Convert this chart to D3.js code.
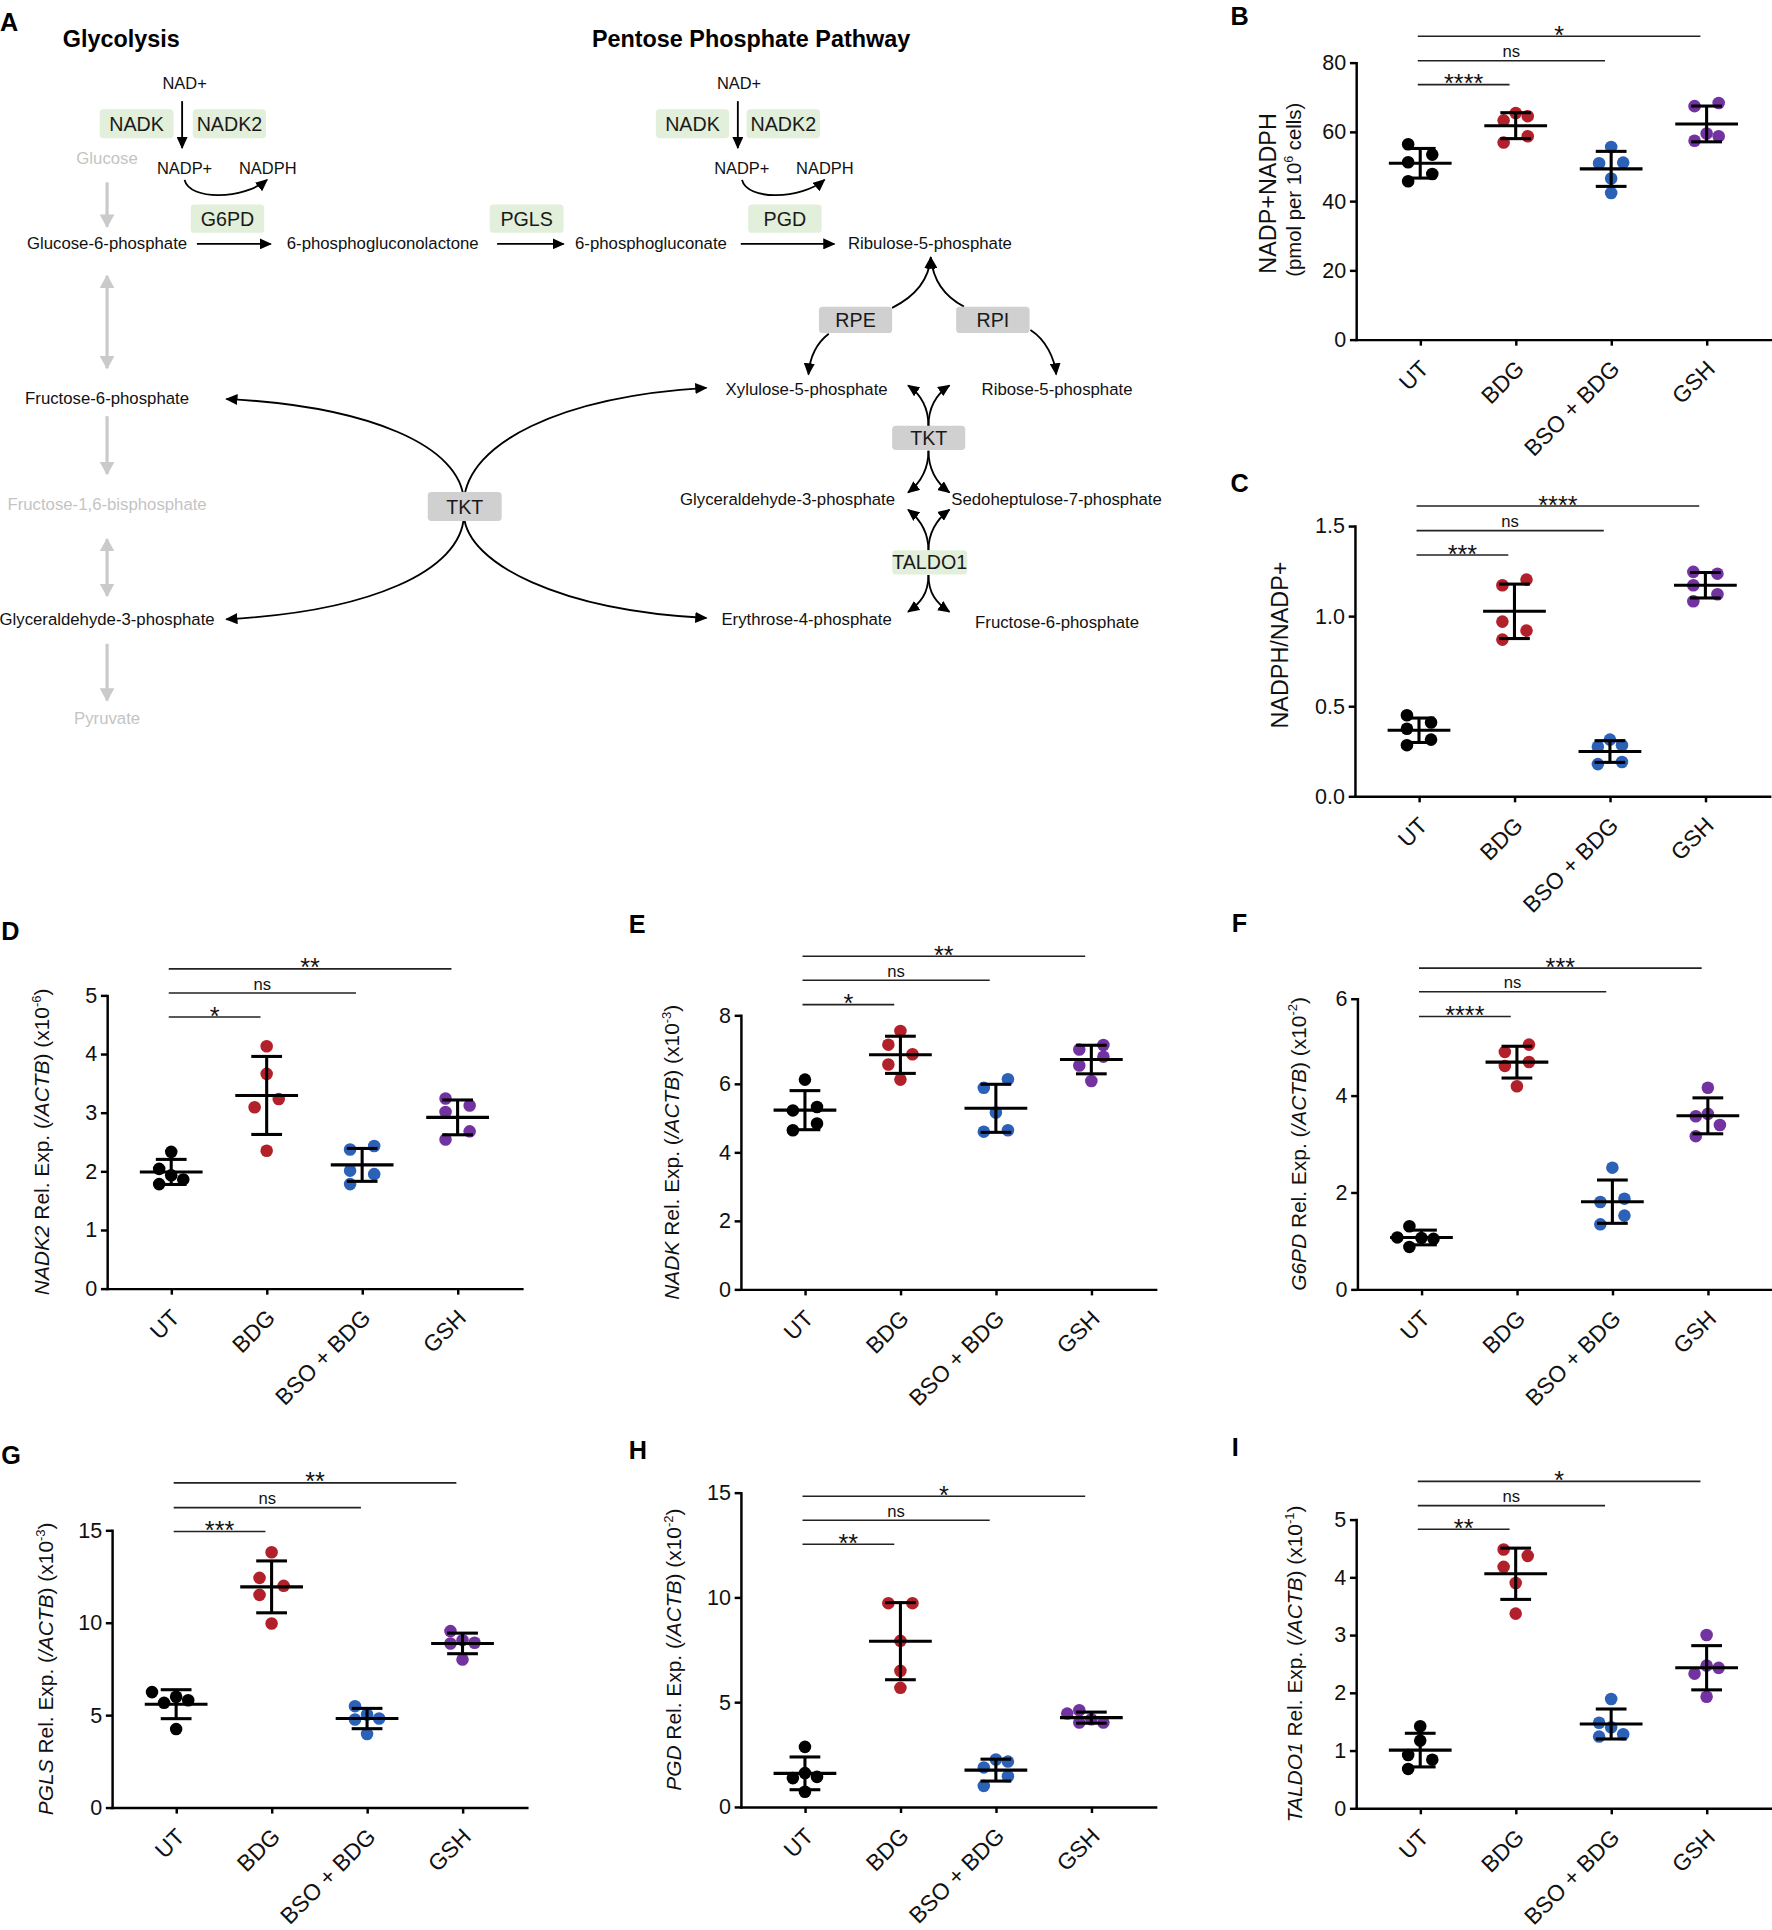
<!DOCTYPE html>
<html>
<head>
<meta charset="utf-8">
<script src="https://cdnjs.cloudflare.com/ajax/libs/d3/7.8.5/d3.min.js"></script>
<style>
body { margin: 0; background: #fff; }
svg { display: block; }
text { font-family: "Liberation Sans", Arial, sans-serif; }
</style>
</head>
<body>
<script>
// ---- data ----
var groups = ['UT', 'BDG', 'BSO + BDG', 'GSH'];
var groupColors = ['#000000', '#b2202a', '#2c61b8', '#7232a0'];

var nadpTotal = [[56.4, 53.4, 51.2, 47.8, 45.7], [65.4, 64.5, 63.3, 58.7, 56.9], [55.6, 51.1, 50.9, 46.5, 42.3], [68.3, 67.4, 59.5, 58.7, 57.4]];
var nadphRatio = [[0.449, 0.409, 0.374, 0.314, 0.283], [1.202, 1.171, 0.969, 0.919, 0.869], [0.314, 0.283, 0.274, 0.190, 0.178], [1.245, 1.235, 1.171, 1.121, 1.082]];
var nadk2Exp = [[2.33, 2.04, 1.93, 1.86, 1.78], [4.13, 3.66, 3.23, 3.09, 2.35], [2.43, 2.37, 2.01, 1.95, 1.78], [3.24, 3.12, 3.01, 2.68, 2.54]];
var nadkExp = [[6.12, 5.32, 5.22, 4.84, 4.64], [7.54, 7.14, 6.86, 6.56, 6.12], [6.13, 5.88, 5.16, 4.64, 4.60], [7.13, 7.00, 6.79, 6.53, 6.08]];
var g6pdExp = [[1.30, 1.07, 1.06, 1.04, 0.874], [5.05, 4.90, 4.69, 4.61, 4.19], [2.51, 1.87, 1.80, 1.52, 1.34], [4.16, 3.62, 3.57, 3.39, 3.16]];
var pglsExp = [[6.24, 5.99, 5.80, 5.66, 4.24], [13.81, 12.42, 11.99, 11.50, 9.95], [5.48, 5.03, 4.81, 4.76, 3.97], [9.54, 9.05, 8.91, 8.87, 8.00]];
var pgdExp = [[2.86, 1.61, 1.43, 1.37, 0.72], [9.72, 9.72, 7.92, 6.49, 5.68], [2.26, 2.16, 1.88, 1.46, 1.00], [4.61, 4.45, 4.18, 4.02, 4.02]];
var taldo1Exp = [[1.42, 1.17, 0.92, 0.84, 0.68], [4.48, 4.37, 4.18, 3.90, 3.37], [1.89, 1.48, 1.40, 1.28, 1.24], [3.00, 2.47, 2.43, 2.33, 1.93]];

var ticksB = [0, 20, 40, 60, 80];
var ticksC = [0, 0.5, 1, 1.5];
var ticksD = [0, 1, 2, 3, 4, 5];
var ticksE = [0, 2, 4, 6, 8];
var ticksF = [0, 2, 4, 6];
var ticksG = [0, 5, 10, 15];
var ticksH = [0, 5, 10, 15];
var ticksI = [0, 1, 2, 3, 4, 5];

// comparisons vs UT: BDG, BSO + BDG, GSH (label, bracket level in axis units)
var sigLabelsB = ['****', 'ns', '*'],   sigLevelsB = [73.6, 80.5, 87.6];
var sigLabelsC = ['***', 'ns', '****'], sigLevelsC = [1.339, 1.474, 1.611];
var sigLabelsD = ['*', 'ns', '**'],     sigLevelsD = [4.63, 5.04, 5.45];
var sigLabelsE = ['*', 'ns', '**'],     sigLevelsE = [8.31, 9.02, 9.72];
var sigLabelsF = ['****', 'ns', '***'], sigLevelsF = [5.63, 6.14, 6.63];
var sigLabelsG = ['***', 'ns', '**'],   sigLevelsG = [14.93, 16.22, 17.56];
var sigLabelsH = ['**', 'ns', '*'],     sigLevelsH = [12.53, 13.68, 14.82];
var sigLabelsI = ['**', 'ns', '*'],     sigLevelsI = [4.83, 5.24, 5.66];

// ---- fonts ----
function hasFont(name) {
    var c = document.createElement('canvas').getContext('2d');
    var s = 'Glyceraldehyde-3-phosphate';
    c.font = '40px monospace';
    var a = c.measureText(s).width;
    c.font = "40px '" + name + "', monospace";
    var b = c.measureText(s).width;
    return Math.abs(a - b) > 1;
}
var narrowOK = hasFont('Liberation Sans Narrow');
var NARROW = narrowOK ? "'Liberation Sans Narrow', 'Liberation Sans', sans-serif" : "'Liberation Sans', Arial, sans-serif";
var SANS = "'Liberation Sans', Arial, sans-serif";
var nk = narrowOK ? 1 : 0.82;

var svg = d3.select('body').append('svg')
    .attr('width', 1772).attr('height', 1930)
    .attr('viewBox', '0 0 1440 1568');

var defs = svg.append('defs');
function marker(id, color, w, h) {
    defs.append('marker')
        .attr('id', id)
        .attr('viewBox', '0 0 10 10')
        .attr('refX', 9).attr('refY', 5)
        .attr('markerWidth', w).attr('markerHeight', h)
        .attr('markerUnits', 'userSpaceOnUse')
        .attr('preserveAspectRatio', 'none')
        .attr('orient', 'auto-start-reverse')
      .append('path')
        .attr('d', 'M0,0L10,5L0,10z')
        .attr('fill', color);
}
marker('ah', '#000', 10, 9);
marker('ahg', '#cacaca', 11, 12);

// ---- panel letters ----
var letters = [['A', 0, 18], ['B', 1000, 13], ['C', 1000, 392], ['D', 1, 756], ['E', 511, 751],
               ['F', 1001, 750], ['G', 1, 1182], ['H', 511, 1178], ['I', 1001, 1176]];
svg.selectAll('.letter').data(letters).enter().append('text')
    .attr('class', 'letter')
    .attr('x', function (d) { return d[1]; })
    .attr('y', function (d) { return d[2]; })
    .attr('dy', '0.36em')
    .attr('font-size', 20.5).attr('font-weight', 'bold')
    .text(function (d) { return d[0]; });

// ---- panel A: pathway ----
var A = svg.append('g');

A.append('text').attr('x', 51).attr('y', 31).attr('dy', '0.36em')
    .attr('font-size', 19).attr('font-weight', 'bold').text('Glycolysis');
A.append('text').attr('x', 481).attr('y', 31).attr('dy', '0.36em')
    .attr('font-size', 19).attr('font-weight', 'bold').text('Pentose Phosphate Pathway');

function arrow(d, grey, both) {
    var m = 'url(#' + (grey ? 'ahg' : 'ah') + ')';
    var p = A.append('path').attr('d', d).attr('fill', 'none')
        .attr('stroke', grey ? '#cacaca' : '#000')
        .attr('stroke-width', grey ? 2.6 : 1.5)
        .attr('marker-end', m);
    if (both) p.attr('marker-start', m);
}

// glycolysis column (grey)
arrow('M87,148V184', true);
arrow('M87,224V299', true, true);
arrow('M87,338V385', true);
arrow('M87,438V484', true, true);
arrow('M87,523V569', true);

// oxidative branch
arrow('M148,82V120');
arrow('M599.6,82V120');
arrow('M150,146C154,163 198,162 217,146');
arrow('M603,146C607,163 651,162 670,146');
arrow('M160,198H220');
arrow('M404,198H458');
arrow('M602,198H678');

// non-oxidative branch
arrow('M725,250C745,240 755,226 756.4,209');
arrow('M783.4,249C766,240 758,226 756.4,209');
arrow('M673.5,271C663,279 658,291 657,304');
arrow('M837.4,268C850,276 857,291 858.3,304');
arrow('M754.5,346C754.5,330 748,320 738,313');
arrow('M754.5,346C754.5,330 761,320 771.5,313');
arrow('M754.5,366C754.5,382 748,392 738,400');
arrow('M754.5,366C754.5,382 761,392 771.5,400');
arrow('M754.5,447C754.5,432 748,422 738,414');
arrow('M754.5,447C754.5,432 761,422 771.5,414');
arrow('M754.5,467C754.5,482 748,490 738,497');
arrow('M754.5,467C754.5,482 761,490 771.5,497');

// big TKT crossing
arrow('M377,407C375,362 300,330 184,324');
arrow('M377,419C375,464 300,497 184,503');
arrow('M377,407C380,360 455,322 574,315');
arrow('M377,419C380,458 455,496 574,502');

// enzyme boxes [label, x0, x1, y0, y1, green?]
var enzymes = [
    ['NADK', 81, 141, 88.6, 112.2, 1], ['NADK2', 156.7, 216.2, 88.6, 112.2, 1],
    ['G6PD', 155, 214.7, 166, 189, 1], ['PGLS', 398, 458, 166, 189, 1],
    ['NADK', 533, 592.5, 88.6, 112.2, 1], ['NADK2', 606.7, 666.4, 88.6, 112.2, 1],
    ['PGD', 608, 667.7, 166, 189, 1],
    ['RPE', 665.5, 725, 249, 270.5, 0], ['RPI', 777, 836.7, 249, 270.5, 0],
    ['TKT', 725, 784.4, 345.8, 365.5, 0], ['TALDO1', 725, 786, 447, 466.7, 1],
    ['TKT', 347.6, 407.7, 399.6, 423.2, 0]
];
var eg = A.selectAll('.enz').data(enzymes).enter().append('g').attr('class', 'enz');
eg.append('rect')
    .attr('x', function (d) { return d[1]; })
    .attr('y', function (d) { return d[3]; })
    .attr('width', function (d) { return d[2] - d[1]; })
    .attr('height', function (d) { return d[4] - d[3]; })
    .attr('rx', 3)
    .attr('fill', function (d) { return d[5] ? '#e2efda' : '#d0d0d0'; });
eg.append('text')
    .attr('x', function (d) { return (d[1] + d[2]) / 2; })
    .attr('y', function (d) { return (d[3] + d[4]) / 2; })
    .attr('dy', '0.36em')
    .attr('text-anchor', 'middle')
    .style('font-family', NARROW)
    .attr('font-size', 19.5 * nk)
    .attr('fill', '#1a1a1a')
    .text(function (d) { return d[0]; });

// metabolites [label, cx, cy, grey?, cofactor?]
var metabolites = [
    ['Glucose', 87, 128, 1], ['Glucose-6-phosphate', 87, 197], ['6-phosphogluconolactone', 311, 197],
    ['6-phosphogluconate', 529, 197], ['Ribulose-5-phosphate', 755.7, 197],
    ['Fructose-6-phosphate', 87, 323.7], ['Fructose-1,6-bisphosphate', 87, 409.6, 1],
    ['Glyceraldehyde-3-phosphate', 87, 503.3], ['Pyruvate', 87, 583, 1],
    ['Xylulose-5-phosphate', 655.5, 316], ['Ribose-5-phosphate', 859, 316],
    ['Glyceraldehyde-3-phosphate', 640, 405.7], ['Sedoheptulose-7-phosphate', 858.6, 405.7],
    ['Erythrose-4-phosphate', 655.5, 503.3], ['Fructose-6-phosphate', 859, 505],
    ['NAD+', 150, 67.7, 0, 1], ['NADP+', 150, 136.7, 0, 1], ['NADPH', 217.6, 136.7, 0, 1],
    ['NAD+', 600.6, 67.7, 0, 1], ['NADP+', 602.8, 136.7, 0, 1], ['NADPH', 670.3, 136.7, 0, 1]
];
A.selectAll('.met').data(metabolites).enter().append('text')
    .attr('class', 'met')
    .attr('x', function (d) { return d[1]; })
    .attr('y', function (d) { return d[2]; })
    .attr('dy', '0.35em')
    .attr('text-anchor', 'middle')
    .style('font-family', NARROW)
    .attr('font-size', function (d) { return (d[4] ? 16.3 : 16.6) * nk; })
    .attr('fill', function (d) { return d[3] ? '#c4c4c4' : '#111'; })
    .text(function (d) { return d[0]; });

// ---- dot plots ----
var R = 5.1, OFF = 9.8, GAP = 9.4;

function swarm(values, y) {
    var idx = values.map(function (v, i) { return i; })
                    .sort(function (a, b) { return values[a] - values[b]; });
    var inCluster = values.map(function () { return false; });
    idx.forEach(function (i, k) {
        var py = y(values[i]);
        if (k > 0 && Math.abs(y(values[idx[k - 1]]) - py) < GAP) inCluster[i] = true;
        if (k < idx.length - 1 && Math.abs(y(values[idx[k + 1]]) - py) < GAP) inCluster[i] = true;
    });
    var placed = [], off = [];
    idx.forEach(function (i) {
        var py = y(values[i]);
        var cands = inCluster[i] ? [-OFF, OFF, 0, -2 * OFF, 2 * OFF] : [0, -OFF, OFF, -2 * OFF, 2 * OFF];
        var ch = cands.find(function (c) {
            return placed.every(function (p) { return Math.hypot(p.x - c, p.y - py) >= GAP - 0.01; });
        });
        if (ch === undefined) ch = 0;
        off[i] = ch;
        placed.push({ x: ch, y: py });
    });
    return off;
}

function ylab(parts) {
    return parts.map(function (p) {
        if (p.indexOf('i:') === 0) return { t: p.slice(2), i: true };
        if (p.indexOf('^') === 0) return { t: p.slice(1), sup: true };
        return { t: p };
    });
}
function relExp(gene, power) {
    return ['i:' + gene, ' Rel. Exp. (', 'i:/ACTB', ') (x10', '^' + power, ')'];
}

var panels = [
    { vals: nadpTotal, ticks: ticksB, fmt: d3.format('d'), x0: 1102, yTop: 50.6, yBot: 275.7,
      sl: sigLabelsB, sv: sigLevelsB,
      labels: [{ parts: ['NADP+NADPH'], size: 19, x: 1030, cy: 157 },
               { parts: ['(pmol per 10', '^6', ' cells)'], size: 16.5, x: 1051.7, cy: 154 }] },
    { vals: nadphRatio, ticks: ticksC, fmt: d3.format('.1f'), x0: 1101, yTop: 427.2, yBot: 646.8,
      sl: sigLabelsC, sv: sigLevelsC,
      labels: [{ parts: ['NADPH/NADP+'], size: 19, x: 1040, cy: 524 }] },
    { vals: nadk2Exp, ticks: ticksD, fmt: d3.format('d'), x0: 87, yTop: 808.6, yBot: 1046.9,
      sl: sigLabelsD, sv: sigLevelsD,
      labels: [{ parts: relExp('NADK2', '-6'), size: 17, x: 33.8 }] },
    { vals: nadkExp, ticks: ticksE, fmt: d3.format('d'), x0: 602, yTop: 824.8, yBot: 1047.5,
      sl: sigLabelsE, sv: sigLevelsE,
      labels: [{ parts: relExp('NADK', '-3'), size: 17, x: 546.2 }] },
    { vals: g6pdExp, ticks: ticksF, fmt: d3.format('d'), x0: 1103, yTop: 811.3, yBot: 1047.5,
      sl: sigLabelsF, sv: sigLevelsF,
      labels: [{ parts: relExp('G6PD', '-2'), size: 17, x: 1055.2 }] },
    { vals: pglsExp, ticks: ticksG, fmt: d3.format('d'), x0: 91, yTop: 1243.3, yBot: 1468.6,
      sl: sigLabelsG, sv: sigLevelsG,
      labels: [{ parts: relExp('PGLS', '-3'), size: 17, x: 37.5 }] },
    { vals: pgdExp, ticks: ticksH, fmt: d3.format('d'), x0: 602, yTop: 1212.7, yBot: 1468.1,
      sl: sigLabelsH, sv: sigLevelsH,
      labels: [{ parts: relExp('PGD', '-2'), size: 17, x: 547.5 }] },
    { vals: taldo1Exp, ticks: ticksI, fmt: d3.format('d'), x0: 1102, yTop: 1234.6, yBot: 1469.2,
      sl: sigLabelsI, sv: sigLevelsI,
      labels: [{ parts: relExp('TALDO1', '-1'), size: 17, x: 1052.1 }] }
];

panels.forEach(function (p) {
    var g = svg.append('g');
    var y = d3.scaleLinear().domain([0, d3.max(p.ticks)]).range([p.yBot, p.yTop]);
    var x = d3.scalePoint().domain(groups).range([p.x0, p.x0 + 337]).padding(0.672);

    // axes
    var ya = g.append('g').attr('transform', 'translate(' + p.x0 + ',0)')
        .call(d3.axisLeft(y).tickValues(p.ticks).tickFormat(p.fmt)
              .tickSize(5).tickSizeOuter(0).tickPadding(3));
    var xa = g.append('g').attr('transform', 'translate(0,' + p.yBot + ')')
        .call(d3.axisBottom(x).tickSize(5).tickSizeOuter(0).tickFormat(''));
    [ya, xa].forEach(function (a) {
        a.select('.domain').attr('stroke-width', 2).attr('stroke-linecap', 'square');
        a.selectAll('.tick line').attr('stroke-width', 2);
        a.selectAll('.tick text').attr('font-size', 17.5)
            .style('font-family', SANS).attr('fill', '#111');
    });

    // rotated category labels
    g.selectAll('.xl').data(groups).enter().append('text')
        .attr('transform', function (d) {
            return 'translate(' + (x(d) + 8) + ',' + (p.yBot + 25) + ') rotate(-45)';
        })
        .attr('text-anchor', 'end')
        .attr('font-size', 18.5)
        .attr('fill', '#111')
        .text(function (d) { return d; });

    // y label
    var midY = (p.yTop + p.yBot) / 2;
    p.labels.forEach(function (L) {
        var cy = L.cy !== undefined ? L.cy : midY;
        var t = g.append('text')
            .attr('transform', 'translate(' + L.x + ',' + cy + ') rotate(-90)')
            .attr('y', 0.35 * L.size)
            .attr('text-anchor', 'middle')
            .attr('font-size', L.size)
            .attr('fill', '#111');
        var lift = 0;
        ylab(L.parts).forEach(function (q) {
            var s = t.append('tspan').text(q.t);
            if (q.i) s.style('font-style', 'italic');
            if (q.sup) {
                s.attr('font-size', L.size * 0.62).attr('dy', -L.size * 0.4);
                lift = L.size * 0.4;
            } else if (lift) {
                s.attr('dy', lift);
                lift = 0;
            }
        });
    });

    // points
    p.vals.forEach(function (vals, gi) {
        var off = swarm(vals, y);
        g.selectAll(null).data(vals).enter().append('circle')
            .attr('cx', function (d, i) { return x(groups[gi]) + off[i]; })
            .attr('cy', function (d) { return y(d); })
            .attr('r', R)
            .attr('fill', groupColors[gi]);
    });

    // mean and SD
    p.vals.forEach(function (vals, gi) {
        var cx = x(groups[gi]);
        var m = d3.mean(vals), sd = d3.deviation(vals);
        var lines = [[cx - 25.5, m, cx + 25.5, m], [cx, m - sd, cx, m + sd],
                     [cx - 12.5, m + sd, cx + 12.5, m + sd], [cx - 12.5, m - sd, cx + 12.5, m - sd]];
        lines.forEach(function (l) {
            g.append('line')
                .attr('x1', l[0]).attr('y1', y(l[1]))
                .attr('x2', l[2]).attr('y2', y(l[3]))
                .attr('stroke', '#000').attr('stroke-width', 2.5);
        });
    });

    // significance brackets
    p.sl.forEach(function (lab, k) {
        var xa0 = x(groups[0]) - 2, xa1 = x(groups[k + 1]) - 5;
        var ly = y(p.sv[k]);
        g.append('line').attr('x1', xa0).attr('x2', xa1).attr('y1', ly).attr('y2', ly)
            .attr('stroke', '#222').attr('stroke-width', 1.3);
        var isNs = lab === 'ns';
        g.append('text')
            .attr('x', (xa0 + xa1) / 2)
            .attr('y', isNs ? ly - 2.7 : ly + 6.2)
            .attr('text-anchor', 'middle')
            .style('font-family', isNs ? NARROW : SANS)
            .attr('font-size', isNs ? 16.5 * nk : 20.5)
            .attr('fill', '#111')
            .text(lab);
    });
});
</script>
</body>
</html>
